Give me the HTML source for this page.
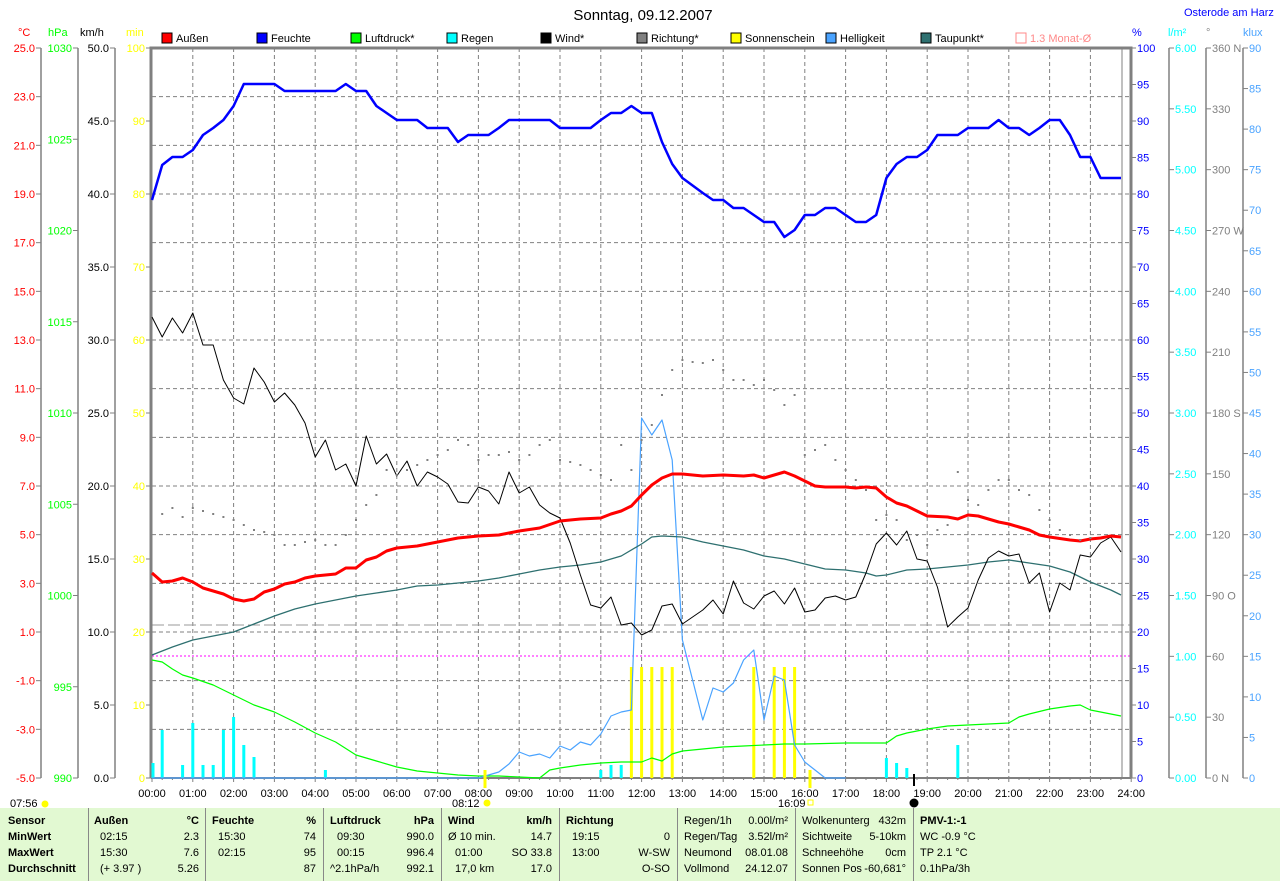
<!DOCTYPE html>
<html><head><meta charset="utf-8"><style>
body{margin:0;background:#fff;width:1280px;height:881px;overflow:hidden;font-family:"Liberation Sans",sans-serif;}
svg{display:block}
text{font-family:"Liberation Sans",sans-serif;font-size:11px}
#tbl{position:absolute;left:0;top:808px;width:1280px;height:73px;background:#e2f9d2;font-size:11px}
#tbl div{position:absolute;white-space:nowrap}
.b{font-weight:bold}
.sep{position:absolute;top:0;width:1px;height:73px;background:#888}
</style></head><body>
<svg id="s" width="1280" height="808" xmlns="http://www.w3.org/2000/svg">
<text x="643" y="20" text-anchor="middle" style="font-size:15px">Sonntag, 09.12.2007</text>
<text x="1184" y="16" fill="#0000ff" style="font-size:11px">Osterode am Harz</text>
<g style="font-size:11px">
<rect x="162" y="33" width="10" height="10" fill="#f00" stroke="#000"/><text x="176" y="42">Außen</text>
<rect x="257" y="33" width="10" height="10" fill="#00f" stroke="#000"/><text x="271" y="42">Feuchte</text>
<rect x="351" y="33" width="10" height="10" fill="#0f0" stroke="#000"/><text x="365" y="42">Luftdruck*</text>
<rect x="447" y="33" width="10" height="10" fill="#0ff" stroke="#000"/><text x="461" y="42">Regen</text>
<rect x="541" y="33" width="10" height="10" fill="#000" stroke="#000"/><text x="555" y="42">Wind*</text>
<rect x="637" y="33" width="10" height="10" fill="#808080" stroke="#000"/><text x="651" y="42">Richtung*</text>
<rect x="731" y="33" width="10" height="10" fill="#ff0" stroke="#000"/><text x="745" y="42">Sonnenschein</text>
<rect x="826" y="33" width="10" height="10" fill="#4aa3ff" stroke="#000"/><text x="840" y="42">Helligkeit</text>
<rect x="921" y="33" width="10" height="10" fill="#2e7070" stroke="#000"/><text x="935" y="42">Taupunkt*</text>
<rect x="1016" y="33" width="10" height="10" fill="none" stroke="#f88"/><text x="1030" y="42" fill="#f88">1.3 Monat-Ø</text>
</g>
<text x="18" y="36" fill="#f00">°C</text>
<text x="48" y="36" fill="#0f0">hPa</text>
<text x="80" y="36" fill="#000">km/h</text>
<text x="126" y="36" fill="#ff0">min</text>
<text x="1132" y="36" fill="#00f">%</text>
<text x="1168" y="36" fill="#0ff">l/m²</text>
<text x="1206" y="36" fill="#888">°</text>
<text x="1243" y="36" fill="#4aa3ff">klux</text>
<g id="grid"></g>
<g id="axes" stroke="#808080" stroke-width="2"></g>
<g id="labels"></g>
<g id="data"></g>
<text x="10" y="807">07:56</text>
<circle cx="45" cy="804" r="3.5" fill="#ff0"/>
<text x="452" y="807">08:12</text>
<circle cx="487" cy="803" r="3.5" fill="#ff0"/>
<text x="778" y="807">16:09</text>
<rect x="808" y="800" width="5" height="5" fill="none" stroke="#ff0"/>
<circle cx="914" cy="803" r="4.5" fill="#000"/>
<line x1="914" y1="774" x2="914" y2="786" stroke="#000" stroke-width="2"/>
<line x1="485" y1="770" x2="485" y2="788" stroke="#ff0" stroke-width="3"/>
<line x1="810" y1="770" x2="810" y2="788" stroke="#ff0" stroke-width="3"/>
</svg>
<div id="tbl">
<div class="sep" style="left:88px"></div><div class="sep" style="left:205px"></div><div class="sep" style="left:323px"></div><div class="sep" style="left:441px"></div><div class="sep" style="left:559px"></div><div class="sep" style="left:677px"></div><div class="sep" style="left:795px"></div><div class="sep" style="left:913px"></div>
<div class="b" style="left:8px;top:7px">Sensor</div><div class="b" style="left:8px;top:23px">MinWert</div><div class="b" style="left:8px;top:39px">MaxWert</div><div class="b" style="left:8px;top:55px">Durchschnitt</div>
<div class="b" style="left:94px;top:7px">Außen</div><div class="b" style="right:1081px;top:7px">°C</div>
<div style="left:100px;top:23px">02:15</div><div style="right:1081px;top:23px">2.3</div>
<div style="left:100px;top:39px">15:30</div><div style="right:1081px;top:39px">7.6</div>
<div style="left:100px;top:55px">(+ 3.97 )</div><div style="right:1081px;top:55px">5.26</div>
<div class="b" style="left:212px;top:7px">Feuchte</div><div class="b" style="right:964px;top:7px">%</div>
<div style="left:218px;top:23px">15:30</div><div style="right:964px;top:23px">74</div>
<div style="left:218px;top:39px">02:15</div><div style="right:964px;top:39px">95</div>
<div style="right:964px;top:55px">87</div>
<div class="b" style="left:330px;top:7px">Luftdruck</div><div class="b" style="right:846px;top:7px">hPa</div>
<div style="left:337px;top:23px">09:30</div><div style="right:846px;top:23px">990.0</div>
<div style="left:337px;top:39px">00:15</div><div style="right:846px;top:39px">996.4</div>
<div style="left:330px;top:55px">^2.1hPa/h</div><div style="right:846px;top:55px">992.1</div>
<div class="b" style="left:448px;top:7px">Wind</div><div class="b" style="right:728px;top:7px">km/h</div>
<div style="left:448px;top:23px">Ø 10 min.</div><div style="right:728px;top:23px">14.7</div>
<div style="left:455px;top:39px">01:00</div><div style="right:728px;top:39px">SO 33.8</div>
<div style="left:455px;top:55px">17,0 km</div><div style="right:728px;top:55px">17.0</div>
<div class="b" style="left:566px;top:7px">Richtung</div>
<div style="left:572px;top:23px">19:15</div><div style="right:610px;top:23px">0</div>
<div style="left:572px;top:39px">13:00</div><div style="right:610px;top:39px">W-SW</div>
<div style="right:610px;top:55px">O-SO</div>
<div style="left:684px;top:7px">Regen/1h</div><div style="right:492px;top:7px">0.00l/m²</div>
<div style="left:684px;top:23px">Regen/Tag</div><div style="right:492px;top:23px">3.52l/m²</div>
<div style="left:684px;top:39px">Neumond</div><div style="right:492px;top:39px">08.01.08</div>
<div style="left:684px;top:55px">Vollmond</div><div style="right:492px;top:55px">24.12.07</div>
<div style="left:802px;top:7px">Wolkenunterg</div><div style="right:374px;top:7px">432m</div>
<div style="left:802px;top:23px">Sichtweite</div><div style="right:374px;top:23px">5-10km</div>
<div style="left:802px;top:39px">Schneehöhe</div><div style="right:374px;top:39px">0cm</div>
<div style="left:802px;top:55px">Sonnen Pos</div><div style="right:374px;top:55px">-60,681°</div>
<div class="b" style="left:920px;top:7px">PMV-1:-1</div>
<div style="left:920px;top:23px">WC -0.9 °C</div>
<div style="left:920px;top:39px">TP 2.1 °C</div>
<div style="left:920px;top:55px">0.1hPa/3h</div>
</div>
<script>
const NS="http://www.w3.org/2000/svg";
function el(p,t,a){const e=document.createElementNS(NS,t);for(const k in a)e.setAttribute(k,a[k]);p.appendChild(e);return e;}
const g=document.getElementById('grid'),ax=document.getElementById('axes'),d=document.getElementById('data');
const X=h=>152+40.8*h, T=48,B=778;
for(let i=1;i<15;i++){const y=T+i*730/15;el(g,'line',{x1:152,x2:1131,y1:y,y2:y,stroke:'#808080','stroke-dasharray':'4,3'});}
for(let h=1;h<24;h++){el(g,'line',{x1:X(h),x2:X(h),y1:T,y2:B,stroke:'#808080','stroke-dasharray':'4,3'});}
for(let i=0;i<=96;i++){el(g,'line',{x1:X(i/4),x2:X(i/4),y1:B,y2:B+(i%4?2:4),stroke:'#808080'});}
el(g,'line',{x1:152,x2:1131,y1:625,y2:625,stroke:'#999','stroke-dasharray':'12,4'});
el(g,'line',{x1:152,x2:1131,y1:656,y2:656,stroke:'#f0f','stroke-dasharray':'2,2'});
el(g,'line',{x1:1122,x2:1122,y1:T,y2:B,stroke:'#808080'});
el(ax,'polyline',{points:`151,${B} 151,${T} 1131,${T} 1131,${B}`,fill:'none','stroke-width':3});
el(ax,'line',{x1:151,x2:1131,y1:B,y2:B});
[41,78,115,1169,1206,1243].forEach(x=>el(ax,'line',{x1:x,x2:x,y1:T,y2:B,'stroke-width':1.5}));
const lab=document.getElementById('labels');
for(let h=0;h<=24;h++){const t=el(lab,'text',{x:X(h),y:797,'text-anchor':'middle'});t.textContent=String(h).padStart(2,'0')+':00';}
function axis(vals,ax0,right,color){vals.forEach((v,i)=>{const y=T+i*730/(vals.length-1);
 el(lab,'line',{x1:right?ax0:ax0-5,x2:right?ax0+5:ax0,y1:y,y2:y,stroke:'#808080'});
 if(v!==null){const t=el(lab,'text',{x:right?ax0+6:ax0-6,y:y+4,fill:color,'text-anchor':right?'start':'end'});t.textContent=v;}});}
axis(['25.0','23.0','21.0','19.0','17.0','15.0','13.0','11.0','9.0','7.0','5.0','3.0','1.0','-1.0','-3.0','-5.0'],41,false,'#f00');
axis(['1030','1025','1020','1015','1010','1005','1000','995','990'],78,false,'#0f0');
axis(['50.0','45.0','40.0','35.0','30.0','25.0','20.0','15.0','10.0','5.0','0.0'],115,false,'#000');
axis(['100','90','80','70','60','50','40','30','20','10','0'],151,false,'#ff0');
axis(['100','95','90','85','80','75','70','65','60','55','50','45','40','35','30','25','20','15','10','5','0'],1131,true,'#00f');
axis(['6.00','5.50','5.00','4.50','4.00','3.50','3.00','2.50','2.00','1.50','1.00','0.50','0.00'],1169,true,'#0ff');
axis(['360 N','330','300','270 W','240','210','180 S','150','120','90  O','60','30','0   N'],1206,true,'#808080');
axis(['90','85','80','75','70','65','60','55','50','45','40','35','30','25','20','15','10','5','0'],1243,true,'#4aa3ff');
function line(arr,color,w){el(d,'polyline',{points:arr.map(p=>X(p[0])+','+p[1]).join(' '),fill:'none',stroke:color,'stroke-width':w,'stroke-linejoin':'round'});}
function seq(start,step,ys){return ys.map((y,i)=>[start+i*step,y]);}
[[0,763],[0.25,730],[0.75,765],[1,723],[1.25,765],[1.5,765],[1.75,730],[2,717],[2.25,745],[2.5,757],[4.25,770],[11,770],[11.25,765],[11.5,765],[18,758],[18.25,763],[18.5,768],[19.75,745]].forEach(p=>el(d,'rect',{x:X(p[0])-1.5+(p[0]==0?1:0),y:p[1],width:3,height:B-p[1],fill:'#0ff'}));
[11.75,12,12.25,12.5,12.75,14.75,15.25,15.5,15.75].forEach(h=>el(d,'rect',{x:X(h)-1.5,y:667,width:3,height:B-667,fill:'#ff0'}));
line([[0,660],[0.25,662],[0.5,669],[0.75,675],[1,678],[1.5,685],[2,695],[2.5,705],[3,712],[3.5,722],[4,733],[4.5,742],[5,755],[5.5,761],[6,767],[6.5,771],[7,773],[7.5,775],[8,776],[8.5,776],[9,777],[9.5,778],[9.75,770],[10,768],[10.5,765],[11,763],[11.5,762],[12,762],[12.25,758],[12.5,761],[12.75,754],[13,751],[13.5,749],[14,747],[14.5,746],[15,745],[15.5,744],[16,744],[17,743],[18,743],[18.25,736],[18.5,733],[19,729],[19.5,726],[20,725],[20.5,724],[21,723],[21.25,717],[21.5,714],[22,709],[22.5,706],[22.75,705],[23,710],[23.5,714],[23.75,716]],'#0f0',1.2);
line([[0,778],[8,778],[8.5,772],[8.75,764],[9,752],[9.25,756],[9.5,754],[9.75,758],[10,746],[10.25,750],[10.5,742],[10.75,745],[11,734],[11.25,716],[11.5,712],[11.75,710],[12,418],[12.25,435],[12.5,420],[12.75,460],[13,640],[13.25,680],[13.5,720],[13.75,688],[14,692],[14.25,683],[14.5,660],[14.75,650],[15,720],[15.25,676],[15.5,680],[15.75,745],[16,762],[16.25,770],[16.5,778],[17,778]],'#4aa3ff',1.2);
line([[0,655],[0.5,647],[1,640],[1.5,636],[2,632],[2.5,624],[3,616],[3.5,609],[4,604],[4.5,600],[5,596],[5.5,593],[6,590],[6.5,586],[7,585],[7.5,583],[8,581],[8.5,578],[9,574],[9.5,570],[10,567],[10.5,565],[11,562],[11.5,556],[12,544],[12.25,537],[12.5,536],[13,537],[13.5,542],[14,546],[14.5,550],[15,556],[15.5,559],[16,564],[16.5,569],[17,570],[17.5,573],[17.75,576],[18,575],[18.5,570],[19,569],[19.5,567],[20,565],[20.5,562],[21,560],[21.5,563],[22,566],[22.5,572],[23,582],[23.5,590],[23.75,595]],'#2e7070',1.3);
line(seq(0,0.25,[317,337,318,333,313,345,345,380,398,404,368,382,402,393,405,423,457,440,470,464,486,436,464,454,476,461,486,472,477,484,502,503,487,491,504,472,493,487,505,513,518,543,575,605,608,597,625,623,635,630,606,604,624,617,610,600,614,581,603,609,596,591,604,588,612,610,598,596,600,597,573,544,533,545,531,559,561,587,627,617,608,580,558,551,556,554,583,573,612,583,590,555,557,543,537,552]),'#000',1);
line([[0,573],[0.25,582],[0.5,581],[0.75,578],[1,582],[1.25,588],[1.5,591],[1.75,594],[2,599],[2.25,601],[2.5,599],[2.75,592],[3,589],[3.25,584],[3.5,582],[3.75,578],[4,576],[4.5,574],[4.75,568],[5,568],[5.25,560],[5.5,557],[5.75,551],[6,548],[6.5,546],[6.75,544],[7,542],[7.5,538],[8,536],[8.5,535],[8.75,533],[9,531],[9.5,528],[10,521],[10.5,519],[11,518],[11.25,514],[11.5,511],[11.75,506],[12,495],[12.25,485],[12.5,478],[12.75,474],[13,474],[13.5,476],[14,475],[14.5,476],[14.75,475],[15,478],[15.25,475],[15.5,472],[15.75,476],[16,481],[16.25,486],[16.5,487],[17,487],[17.25,488],[17.5,487],[17.75,488],[18,497],[18.25,503],[18.5,506],[18.75,511],[19,516],[19.5,517],[19.75,519],[20,515],[20.25,516],[20.5,519],[20.75,522],[21,524],[21.25,527],[21.5,530],[21.75,535],[22,537],[22.5,540],[22.75,541],[23,539],[23.25,538],[23.5,536],[23.75,537]],'#f00',3);
line([[0,200],[0.25,165],[0.5,157],[0.75,157],[1,150],[1.25,135],[1.5,128],[1.75,120],[2,106],[2.25,84],[3,84],[3.25,91],[4.5,91],[4.75,84],[5,91],[5.25,91],[5.5,106],[5.75,113],[6,120],[6.5,120],[6.75,128],[7.25,128],[7.5,142],[7.75,135],[8.25,135],[8.5,128],[8.75,120],[9.75,120],[10,128],[10.75,128],[11,120],[11.25,113],[11.5,113],[11.75,106],[12,113],[12.25,113],[12.5,142],[12.75,164],[13,178],[13.5,193],[13.75,200],[14,200],[14.25,208],[14.5,208],[14.75,215],[15,222],[15.25,222],[15.5,237],[15.75,230],[16,215],[16.25,215],[16.5,208],[16.75,208],[17,215],[17.25,222],[17.5,222],[17.75,215],[18,178],[18.25,164],[18.5,157],[18.75,157],[19,150],[19.25,135],[19.75,135],[20,128],[20.5,128],[20.75,120],[21,128],[21.25,128],[21.5,135],[21.75,128],[22,120],[22.25,120],[22.5,135],[22.75,157],[23,157],[23.25,178],[23.75,178]],'#00f',2.5);
seq(0.25,0.25,[514,508,517,508,511,514,517,520,525,530,532,535,545,545,542,540,545,545,535,520,505,495,470,475,470,465,460,455,450,440,445,460,455,455,452,460,455,445,440,460,462,465,470,475,480,445,470,440,425,395,370,360,362,363,360,370,380,380,385,380,390,405,395,455,450,445,460,470,480,490,520,515,520,540,535,545,530,525,472,500,505,490,480,480,490,495,510,520,530,535,540,538]).forEach(p=>el(d,'rect',{x:X(p[0])-1,y:p[1]-1,width:2,height:2,fill:'#808080'}));
</script>
</body></html>
